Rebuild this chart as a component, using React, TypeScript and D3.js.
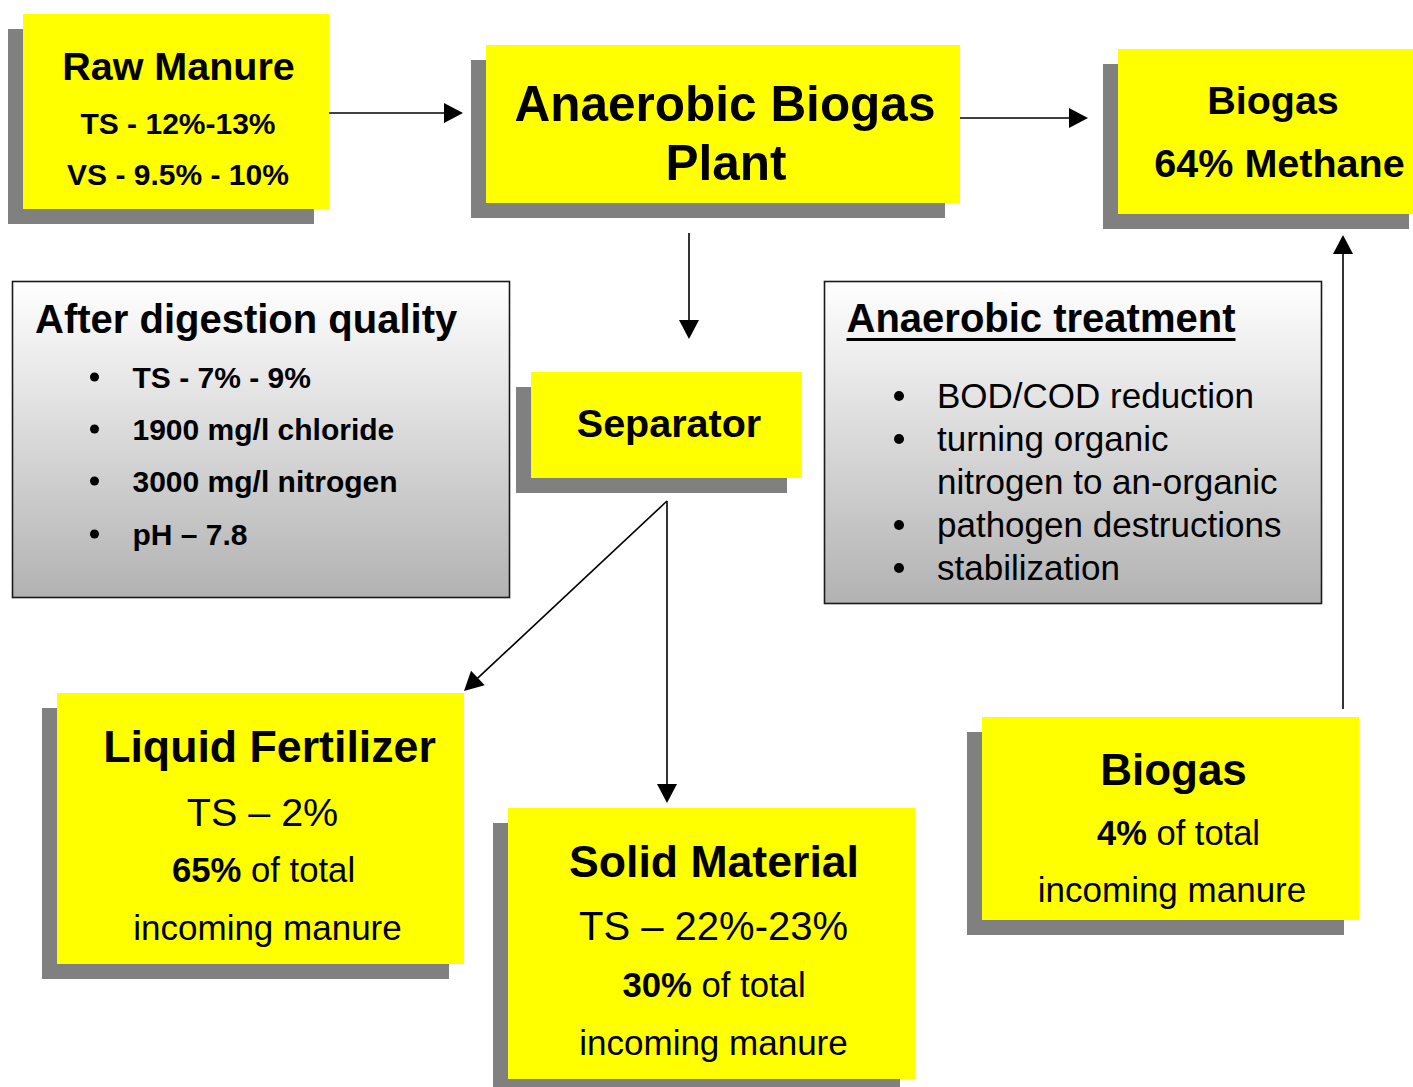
import React, { useEffect, useRef } from 'react';
import * as d3 from 'd3';

// text content of every box, one entry per line; segments flagged bold where mixed
type Seg = { t: string; b?: boolean };

const rawManureLines: Seg[][] = [[{ t: 'Raw Manure', b: true }], [{ t: 'TS - 12%-13%', b: true }], [{ t: 'VS - 9.5% - 10%', b: true }]];
const plantLines: Seg[][] = [[{ t: 'Anaerobic Biogas', b: true }], [{ t: 'Plant', b: true }]];
const biogasTopLines: Seg[][] = [[{ t: 'Biogas', b: true }], [{ t: '64% Methane', b: true }]];
const separatorLines: Seg[][] = [[{ t: 'Separator', b: true }]];
const liquidLines: Seg[][] = [
  [{ t: 'Liquid Fertilizer', b: true }],
  [{ t: 'TS \u2013 2%' }],
  [{ t: '65%', b: true }, { t: ' of total' }],
  [{ t: 'incoming manure' }],
];
const solidLines: Seg[][] = [
  [{ t: 'Solid Material', b: true }],
  [{ t: 'TS \u2013 22%-23%' }],
  [{ t: '30%', b: true }, { t: ' of total' }],
  [{ t: 'incoming manure' }],
];
const biogasBottomLines: Seg[][] = [
  [{ t: 'Biogas', b: true }],
  [{ t: '4%', b: true }, { t: ' of total' }],
  [{ t: 'incoming manure' }],
];

const digestionTitle = 'After digestion quality';
const digestionItems = ['TS - 7% - 9%', '1900 mg/l chloride', '3000 mg/l nitrogen', 'pH \u2013 7.8'];
const treatmentTitle = 'Anaerobic treatment';
// bullet flag: false marks a wrapped continuation line
const treatmentItems: [string, boolean][] = [
  ['BOD/COD reduction', true],
  ['turning organic', true],
  ['nitrogen to an-organic', false],
  ['pathogen destructions', true],
  ['stabilization', true],
];

// layout (pixels)
const W = 1413;
const H = 1087;
const FONT = "'Liberation Sans', Arial, Helvetica, sans-serif";

const yellowBoxes = [
  { lines: rawManureLines, x: 23, y: 14, w: 306, h: 195, sizes: [39.5, 30, 30], cx: [178.5, 178, 178], by: [80, 134, 185] },
  { lines: plantLines, x: 486, y: 45, w: 474, h: 158, sizes: [49.5, 49.5], cx: [725, 726], by: [121, 180] },
  { lines: biogasTopLines, x: 1118, y: 49, w: 306, h: 165, sizes: [39.5, 39.5], cx: [1273, 1279.5], by: [114, 177] },
  { lines: separatorLines, x: 531, y: 372, w: 271, h: 106, sizes: [39.5], cx: [669], by: [437] },
  { lines: liquidLines, x: 57, y: 693, w: 407, h: 271, sizes: [44.7, 39.5, 34.7, 35], cx: [269.5, 262.5, 263.5, 267.5], by: [762, 826, 882, 940] },
  { lines: solidLines, x: 508, y: 808, w: 407, h: 271, sizes: [44.6, 40, 34.7, 35], cx: [714, 713.5, 714, 713.5], by: [877, 940, 997, 1055] },
  { lines: biogasBottomLines, x: 982, y: 717, w: 377, h: 203, sizes: [44, 34.5, 35], cx: [1173.5, 1178.5, 1172], by: [785, 845, 902] },
];

const arrows: [number, number, number, number][] = [
  [329, 113, 463, 113],
  [960, 118, 1088, 118],
  [689, 233, 689, 339],
  [667, 501, 464, 691],
  [667, 501, 667, 803],
  [1343, 709, 1343, 235],
];

export default function App() {
  const svgRef = useRef<SVGSVGElement | null>(null);

  useEffect(() => {
    if (!svgRef.current) return;
    const svg = d3.select(svgRef.current);
    svg.selectAll('*').remove();

    svg.append('rect').attr('width', W).attr('height', H).attr('fill', '#ffffff');

    const defs = svg.append('defs');
    const grad = defs.append('linearGradient').attr('id', 'greyGrad')
      .attr('x1', 0).attr('y1', 0).attr('x2', 0).attr('y2', 1);
    grad.append('stop').attr('offset', '0%').attr('stop-color', '#ffffff');
    grad.append('stop').attr('offset', '100%').attr('stop-color', '#b2b2b2');

    // shadows then yellow boxes
    const boxes = svg.append('g');
    boxes.selectAll('rect.shadow')
      .data(yellowBoxes)
      .join('rect')
      .attr('class', 'shadow')
      .attr('x', d => d.x - 15)
      .attr('y', d => d.y + 15)
      .attr('width', d => d.w)
      .attr('height', d => d.h)
      .attr('fill', '#808080');
    boxes.selectAll('rect.fill')
      .data(yellowBoxes)
      .join('rect')
      .attr('class', 'fill')
      .attr('x', d => d.x)
      .attr('y', d => d.y)
      .attr('width', d => d.w)
      .attr('height', d => d.h)
      .attr('fill', '#ffff00');

    // grey info boxes
    const greyBoxes = [
      { x: 12.5, y: 281.5, w: 497, h: 316 },
      { x: 824.5, y: 281.5, w: 497, h: 322 },
    ];
    svg.append('g').selectAll('rect')
      .data(greyBoxes)
      .join('rect')
      .attr('x', d => d.x)
      .attr('y', d => d.y)
      .attr('width', d => d.w)
      .attr('height', d => d.h)
      .attr('fill', 'url(#greyGrad)')
      .attr('stroke', '#1a1a1a')
      .attr('stroke-width', 1.6);

    // arrows
    const line = d3.line();
    const ag = svg.append('g');
    const headLen = 19;
    const headHalf = 10;
    arrows.forEach(([x1, y1, x2, y2]) => {
      const dx = x2 - x1;
      const dy = y2 - y1;
      const len = Math.hypot(dx, dy);
      const ux = dx / len;
      const uy = dy / len;
      const bx = x2 - ux * headLen;
      const by = y2 - uy * headLen;
      ag.append('path')
        .attr('d', line([[x1, y1], [bx + ux, by + uy]]))
        .attr('stroke', '#000')
        .attr('stroke-width', 1.6)
        .attr('fill', 'none');
      ag.append('path')
        .attr('d', line([[x2, y2], [bx - uy * headHalf, by + ux * headHalf], [bx + uy * headHalf, by - ux * headHalf]]) + 'Z')
        .attr('fill', '#000');
    });

    // yellow box texts
    const tg = svg.append('g').attr('font-family', FONT).attr('fill', '#000');
    yellowBoxes.forEach(box => {
      box.lines.forEach((segs, i) => {
        const t = tg.append('text')
          .attr('x', box.cx[i])
          .attr('y', box.by[i])
          .attr('text-anchor', 'middle')
          .attr('font-size', box.sizes[i]);
        segs.forEach(s => {
          t.append('tspan')
            .attr('font-weight', s.b ? 'bold' : 'normal')
            .style('white-space', 'pre')
            .text(s.t);
        });
      });
    });

    // After digestion quality
    tg.append('text')
      .attr('x', 35)
      .attr('y', 332.5)
      .attr('font-size', 40)
      .attr('font-weight', 'bold')
      .text(digestionTitle);
    const digY = [388, 440, 492, 545];
    digestionItems.forEach((item, i) => {
      tg.append('circle').attr('cx', 94.5).attr('cy', digY[i] - 11).attr('r', 4.5).attr('fill', '#000');
      tg.append('text')
        .attr('x', 132.5)
        .attr('y', digY[i])
        .attr('font-size', 30)
        .attr('font-weight', 'bold')
        .text(item);
    });

    // Anaerobic treatment
    const tt = tg.append('text')
      .attr('x', 846.5)
      .attr('y', 332)
      .attr('font-size', 40)
      .attr('font-weight', 'bold')
      .text(treatmentTitle);
    const ttLen = (tt.node() as SVGTextElement).getComputedTextLength();
    tg.append('rect').attr('x', 846.5).attr('y', 338).attr('width', ttLen).attr('height', 3).attr('fill', '#000');
    const trY = [408, 451, 494, 537, 580];
    treatmentItems.forEach(([item, bullet], i) => {
      if (bullet) {
        tg.append('circle').attr('cx', 899).attr('cy', trY[i] - 12).attr('r', 5).attr('fill', '#000');
      }
      tg.append('text')
        .attr('x', 937)
        .attr('y', trY[i])
        .attr('font-size', 35)
        .text(item);
    });
  }, []);

  return (
    <svg
      ref={svgRef}
      width={W}
      height={H}
      style={{ position: 'absolute', left: 0, top: 0, display: 'block' }}
    />
  );
}
